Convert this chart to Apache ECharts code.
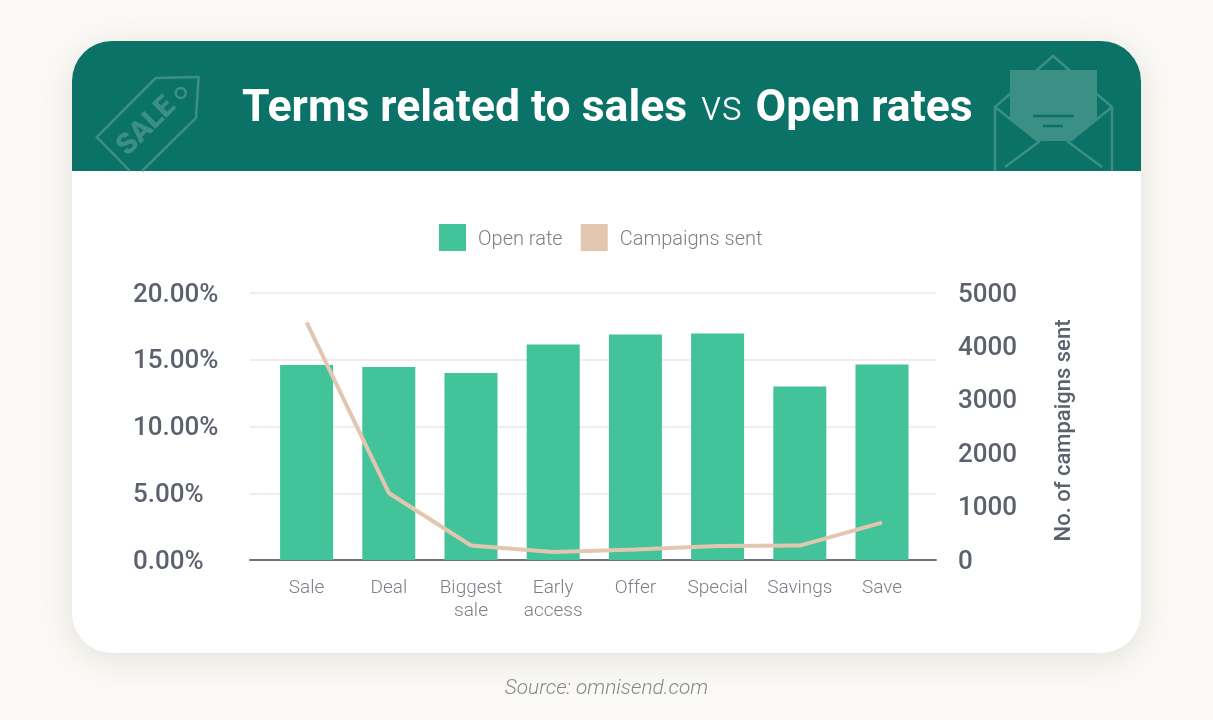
<!DOCTYPE html>
<html>
<head>
<meta charset="utf-8">
<title>Terms related to sales vs Open rates</title>
<style>
  html, body { margin: 0; height: 100%; background: #fbfaf6; }
  #main { width: 1213px; height: 720px; }
</style>
</head>
<body>
<div id="main"></div>
<script src="https://cdn.jsdelivr.net/npm/echarts@6/dist/echarts.min.js"></script>
<script>
var categories = ['Sale', 'Deal', 'Biggest\nsale', 'Early\naccess', 'Offer', 'Special', 'Savings', 'Save'];
var openRate = [14.6, 14.46, 14.0, 16.14, 16.9, 16.97, 13.0, 14.64];
var campaignsSent = [4450, 1255, 272, 150, 197, 262, 270, 700];

var GREEN = '#43c39a', TAN = '#e3c6b0', HEADER = '#0b7267', GHOST = '#3b8f84';
var GREY = '#5b626e', LIGHT = '#7b8088';

var chart = echarts.init(document.getElementById('main'));

function ghostLine(points) {
  return {
    type: 'polyline',
    z: -8,
    shape: { points: points },
    style: { stroke: GHOST, lineWidth: 2.5, fill: null }
  };
}

chart.setOption({
  animation: false,
  backgroundColor: '#fbfaf6',
  textStyle: { fontFamily: 'Roboto' },
  title: {
    left: 237,
    top: 82,
    text: '{b|Terms related to sales}{l|vs}{b|Open rates}',
    textStyle: {
      rich: {
        b: { fontFamily: 'Roboto', fontWeight: 700, fontSize: 44.5, color: '#fff' },
        l: { fontFamily: 'Roboto', fontWeight: 300, fontSize: 42, color: '#fff', padding: [0, 13, 0, 14] }
      }
    }
  },
  legend: {
    left: 434,
    top: 219,
    itemWidth: 27,
    itemHeight: 27,
    itemGap: 18,
    icon: 'rect',
    data: ['Open rate', 'Campaigns sent'],
    formatter: '{a|{name}}',
    textStyle: {
      rich: {
        a: { fontFamily: 'Roboto', fontWeight: 300, fontSize: 20, color: LIGHT, padding: [4, 0, 0, 7] }
      }
    }
  },
  grid: [
    { left: 250, top: 293, width: 686, height: 267 },
    { left: 265.5, top: 293, width: 657.6, height: 267 }
  ],
  xAxis: [
    {
      type: 'category',
      gridIndex: 0,
      data: categories,
      axisLine: { lineStyle: { color: '#6b7280', width: 2 } },
      axisTick: { show: false },
      axisLabel: { show: false }
    },
    {
      type: 'category',
      gridIndex: 1,
      data: categories,
      axisLine: { show: false },
      axisTick: { show: false },
      axisLabel: { interval: 0, margin: 17, fontFamily: 'Roboto', fontWeight: 300, fontSize: 19, lineHeight: 23, color: LIGHT }
    }
  ],
  yAxis: [
    {
      type: 'value',
      gridIndex: 0,
      min: 0,
      max: 20,
      interval: 5,
      axisLine: { show: false },
      axisTick: { show: false },
      splitLine: { lineStyle: { color: '#eeeeee', width: 2 } },
      axisLabel: {
        align: 'left',
        verticalAlign: 'top',
        lineHeight: 4,
        margin: 117,
        fontFamily: 'Roboto',
        fontWeight: 500,
        fontSize: 26,
        color: GREY,
        formatter: function(v) { return v.toFixed(2) + '%'; }
      }
    },
    {
      type: 'value',
      gridIndex: 0,
      position: 'right',
      min: 0,
      max: 5000,
      interval: 1000,
      axisLine: { show: false },
      axisTick: { show: false },
      splitLine: { show: false },
      axisLabel: {
        align: 'left',
        verticalAlign: 'top',
        lineHeight: 4,
        margin: 22,
        fontFamily: 'Roboto',
        fontWeight: 500,
        fontSize: 26,
        color: GREY,
        formatter: function(v) { return String(v); }
      },
      name: 'No. of campaigns sent',
      nameLocation: 'middle',
      nameRotate: 90,
      nameGap: 117,
      nameTextStyle: { fontFamily: 'Roboto', fontWeight: 500, fontSize: 22, color: GREY, padding: [0, 8, 0, 0] }
    },
    { type: 'value', gridIndex: 1, min: 0, max: 20, show: false },
    { type: 'value', gridIndex: 1, min: 0, max: 5000, show: false }
  ],
  series: [
    {
      name: 'Open rate',
      type: 'bar',
      xAxisIndex: 1,
      yAxisIndex: 2,
      barWidth: 53,
      itemStyle: { color: GREEN },
      data: openRate
    },
    {
      name: 'Campaigns sent',
      type: 'line',
      xAxisIndex: 1,
      yAxisIndex: 3,
      showSymbol: false,
      symbol: 'none',
      itemStyle: { color: TAN },
      lineStyle: { color: TAN, width: 4 },
      data: campaignsSent
    }
  ],
  graphic: [
    // card and header
    {
      type: 'rect', z: -10,
      shape: { x: 72, y: 41, width: 1069, height: 612, r: 40 },
      style: { fill: '#fff', shadowBlur: 36, shadowColor: 'rgba(120,120,110,0.2)', shadowOffsetY: 6 }
    },
    {
      type: 'rect', z: -9,
      shape: { x: 72, y: 41, width: 1069, height: 130, r: [40, 40, 0, 0] },
      style: { fill: HEADER }
    },
    // price tag
    ghostLine([[142, 171], [196, 118], [198.6, 77], [155.7, 78], [96.8, 137], [130, 171]]),
    { type: 'circle', z: -8, shape: { cx: 180.7, cy: 93, r: 5 }, style: { stroke: GHOST, lineWidth: 2.5, fill: null } },
    {
      type: 'text', z: -8, x: 147, y: 127, rotation: Math.PI / 4,
      style: { text: 'SALE', fontFamily: 'Roboto', fontWeight: 900, fontSize: 29, fill: GHOST, align: 'center', verticalAlign: 'middle' }
    },
    // envelope
    ghostLine([[995, 171], [995, 107], [1053, 56], [1112, 107], [1112, 171]]),
    ghostLine([[995, 107], [1038, 141]]),
    ghostLine([[1112, 107], [1070, 141]]),
    ghostLine([[1040, 141], [1005, 167]]),
    ghostLine([[1067, 141], [1102, 167]]),
    {
      type: 'polygon', z: -7,
      shape: { points: [[1010, 70], [1097, 70], [1097, 120], [1070, 141], [1038, 141], [1010, 120]] },
      style: { fill: GHOST }
    },
    { type: 'line', z: -6, shape: { x1: 1033, y1: 116, x2: 1074, y2: 116 }, style: { stroke: HEADER, lineWidth: 2.5 } },
    { type: 'line', z: -6, shape: { x1: 1043, y1: 126, x2: 1063, y2: 126 }, style: { stroke: HEADER, lineWidth: 2.5 } },
    // source
    {
      type: 'text', x: 606.5, y: 689,
      style: { text: 'Source: omnisend.com', fontFamily: 'Roboto', fontWeight: 300, fontStyle: 'italic', fontSize: 20.8, fill: '#85888c', align: 'center', verticalAlign: 'middle' }
    }
  ]
});
</script>
</body>
</html>
